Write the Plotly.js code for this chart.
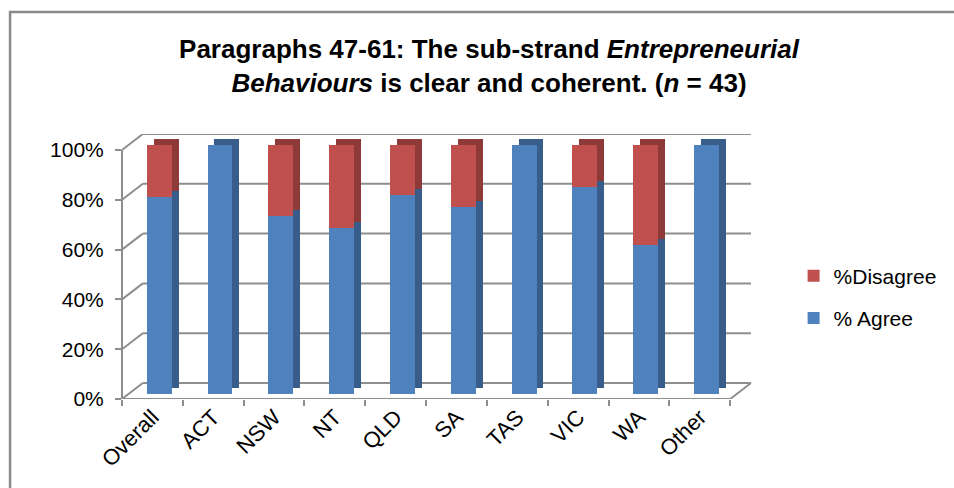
<!DOCTYPE html>
<html>
<head>
<meta charset="utf-8">
<script src="https://cdn.plot.ly/plotly-3.0.1.min.js"></script>
<style>html,body{margin:0;padding:0;background:#fff;}#chart{width:954px;height:488px;}</style>
</head>
<body>
<div id="chart"></div>
<script>
// ---- data ----
const categories = ['Overall', 'ACT', 'NSW', 'NT', 'QLD', 'SA', 'TAS', 'VIC', 'WA', 'Other'];
const agreePct = [79.1, 100, 71.4, 66.7, 80, 75, 100, 83.3, 60, 100];
const disagreePct = [20.9, 0, 28.6, 33.3, 20, 25, 0, 16.7, 40, 0];
const yTickVals = [0, 20, 40, 60, 80, 100];
const yTickLabels = ['0%', '20%', '40%', '60%', '80%', '100%'];
const seriesNames = ['% Agree', '%Disagree'];

// ---- geometry (pixels) ----
const plotL = 122, plotR = 757, plotT = 134, plotB = 399;
const W = plotR - plotL, H = plotB - plotT;
const unitX = 61.4;      // px per category
const unitY = 2.49;      // px per percent
const wallDx = 21, wallDy = 16;   // back wall offset
const barDx = 6.8, barDy = 5;     // bar front face offset
const sideDx = 7, sideDy = 6;     // bar depth

const xMax = -0.5 + W / unitX;
const yMax = H / unitY;

const frontBlue = '#4F81BD', frontRed = '#C0504D';
const sideBlue = '#385D8A', sideRed = '#8E3A38';
const gridCol = '#8E8E8E';

const traces = [];
// register categories on main axis (draws nothing)
traces.push({type: 'scatter', mode: 'none', x: categories, y: agreePct, xaxis: 'x', yaxis: 'y',
  showlegend: false, hoverinfo: 'skip'});
// depth (side/top faces)
traces.push({type: 'bar', x: categories, y: agreePct, xaxis: 'x2', yaxis: 'y2', width: 0.41,
  marker: {color: sideBlue}, showlegend: false, hoverinfo: 'skip'});
traces.push({type: 'bar', x: categories, y: disagreePct, xaxis: 'x2', yaxis: 'y2', width: 0.41,
  marker: {color: sideRed}, showlegend: false, hoverinfo: 'skip'});
// front faces
traces.push({type: 'bar', name: seriesNames[0], x: categories, y: agreePct, xaxis: 'x3', yaxis: 'y3', width: 0.41,
  marker: {color: frontBlue}, legendgroup: 'a', legendrank: 2});
traces.push({type: 'bar', name: seriesNames[1], x: categories, y: disagreePct, xaxis: 'x3', yaxis: 'y3', width: 0.41,
  marker: {color: frontRed}, legendgroup: 'd', legendrank: 1});

const shapes = [];
const wallDxP = wallDx / W, wallDyV = wallDy / unitY;
yTickVals.forEach(v => {
  // back wall gridline
  shapes.push({type: 'line', layer: 'below', xref: 'paper', yref: 'y', x0: wallDxP, x1: 1,
    y0: v + wallDyV, y1: v + wallDyV, line: {color: gridCol, width: 2}});
  // left wall diagonal
  shapes.push({type: 'line', layer: 'below', xref: 'paper', yref: 'y', x0: 0, x1: wallDxP,
    y0: v, y1: v + wallDyV, line: {color: gridCol, width: 2}});
});
// front vertical axis line
shapes.push({type: 'line', layer: 'below', xref: 'paper', yref: 'y', x0: 0, x1: 0, y0: 0, y1: 100,
  line: {color: gridCol, width: 2}});
// floor front edge and right diagonal
shapes.push({type: 'line', layer: 'below', xref: 'paper', yref: 'y', x0: 0, x1: 1 - wallDxP, y0: 0, y1: 0,
  line: {color: gridCol, width: 2}});
shapes.push({type: 'line', layer: 'below', xref: 'paper', yref: 'y', x0: 1 - wallDxP, x1: 1, y0: 0, y1: wallDyV,
  line: {color: gridCol, width: 2}});
// chart border (left + top)
const bxL = (9 - plotL) / W, byT = 1 + (plotT - 12) / H;
shapes.push({type: 'path', layer: 'above', xref: 'paper', yref: 'paper',
  path: `M ${bxL} -1 L ${bxL} ${byT} L 3 ${byT}`, line: {color: '#8A8A8A', width: 2.5}});

const hidden = {visible: false, fixedrange: true};
const layout = {
  width: 954, height: 488,
  margin: {l: plotL, r: 954 - plotR, t: plotT, b: 488 - plotB, pad: 0},
  paper_bgcolor: '#ffffff', plot_bgcolor: 'rgba(0,0,0,0)',
  font: {family: 'Liberation Sans, Arial, sans-serif', color: '#000'},
  barmode: 'stack', hovermode: false,
  title: {
    text: '<b>Paragraphs 47-61: The sub-strand <i>Entrepreneurial</i><br><i>Behaviours</i> is clear and coherent. (<i>n</i> = 43)</b>',
    font: {size: 26, color: '#000'}, xref: 'container', x: 489 / 954, xanchor: 'center',
    yref: 'container', y: 1 - 58 / 488, yanchor: 'middle'
  },
  xaxis: {type: 'category', range: [-0.5, xMax], tickson: 'boundaries', ticks: 'outside', ticklen: 6,
    tickwidth: 2, tickcolor: gridCol, showgrid: false, showline: false, zeroline: false,
    tickangle: -45, tickfont: {size: 22}, fixedrange: true},
  yaxis: {range: [0, yMax], tickvals: yTickVals, ticktext: yTickLabels, ticks: 'outside', ticklen: 6,
    tickwidth: 2, tickcolor: gridCol, showgrid: false, showline: false, zeroline: false,
    tickfont: {size: 21}, ticklabelstandoff: 7, fixedrange: true},
  xaxis2: Object.assign({type: 'category', overlaying: 'x',
    range: [-0.5 - (barDx + sideDx) / unitX, xMax - (barDx + sideDx) / unitX]}, hidden),
  yaxis2: Object.assign({overlaying: 'y',
    range: [-(barDy + sideDy) / unitY, yMax - (barDy + sideDy) / unitY]}, hidden),
  xaxis3: Object.assign({type: 'category', overlaying: 'x',
    range: [-0.5 - barDx / unitX, xMax - barDx / unitX]}, hidden),
  yaxis3: Object.assign({overlaying: 'y', range: [-barDy / unitY, yMax - barDy / unitY]}, hidden),
  legend: {x: (800 - plotL) / W, xanchor: 'left', y: 1 - (297 - plotT) / H, yanchor: 'middle',
    traceorder: 'grouped', tracegroupgap: 12, font: {size: 21, color: '#000'},
    bgcolor: 'rgba(0,0,0,0)'},
  shapes: shapes
};

Plotly.newPlot('chart', traces, layout, {displayModeBar: false, staticPlot: true});
</script>
</body>
</html>
